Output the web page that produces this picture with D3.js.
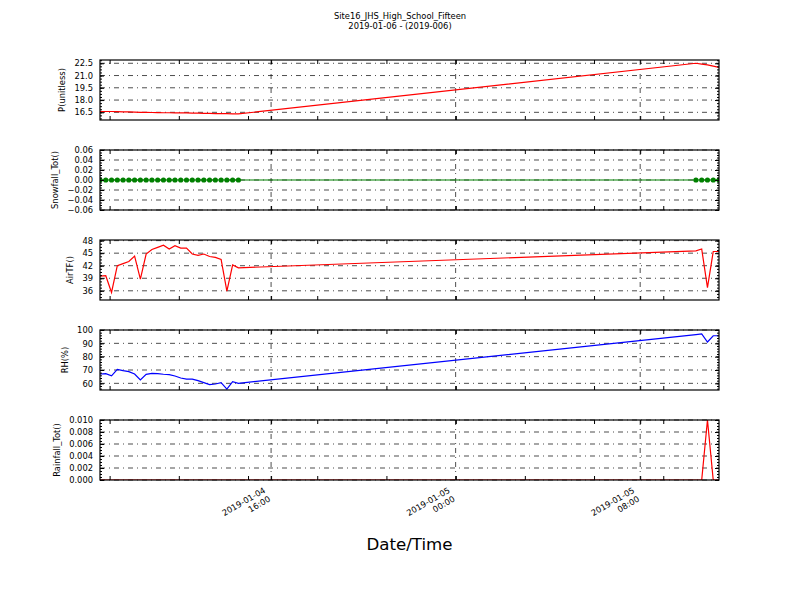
<!DOCTYPE html>
<html>
<head>
<meta charset="utf-8">
<script src="https://cdn.jsdelivr.net/npm/d3@7/dist/d3.min.js"></script>
<style>
  body { margin: 0; background: #fff; }
  text { font-family: "DejaVu Sans", sans-serif; fill: #000; }
</style>
</head>
<body>
<script>
// observation times (15 min records, gap overnight)
const times = [
  "2019-01-04 08:35", "2019-01-04 08:50", "2019-01-04 09:05", "2019-01-04 09:20", "2019-01-04 09:35",
  "2019-01-04 09:50", "2019-01-04 10:05", "2019-01-04 10:20", "2019-01-04 10:35", "2019-01-04 10:50",
  "2019-01-04 11:05", "2019-01-04 11:20", "2019-01-04 11:35", "2019-01-04 11:50", "2019-01-04 12:05",
  "2019-01-04 12:20", "2019-01-04 12:35", "2019-01-04 12:50", "2019-01-04 13:05", "2019-01-04 13:20",
  "2019-01-04 13:35", "2019-01-04 13:50", "2019-01-04 14:05", "2019-01-04 14:20", "2019-01-04 14:35",
  "2019-01-05 10:25", "2019-01-05 10:40", "2019-01-05 10:55", "2019-01-05 11:10", "2019-01-05 11:25"
];

const pValues = [
  16.6, 16.6, 16.6, 16.58, 16.55, 16.55, 16.52, 16.5, 16.5, 16.48,
  16.47, 16.45, 16.45, 16.43, 16.42, 16.42, 16.4, 16.4, 16.38, 16.37,
  16.35, 16.35, 16.33, 16.32, 16.3,
  22.5, 22.4, 22.3, 22.15, 22.0
];
const snowValues = [
  0, 0, 0, 0, 0, 0, 0, 0, 0, 0,
  0, 0, 0, 0, 0, 0, 0, 0, 0, 0,
  0, 0, 0, 0, 0,
  0, 0, 0, 0, 0
];
const airValues = [
  39.5, 39.6, 35.6, 42.0, 42.5, 43.0, 44.3, 38.8, 44.8, 45.9,
  46.4, 46.9, 46.0, 46.8, 46.2, 46.2, 44.8, 44.5, 44.8, 44.2,
  44.0, 43.5, 35.9, 42.2, 41.5,
  45.55, 46.0, 36.75, 45.4, 45.4
];
const rhValues = [
  67, 67.3, 65.6, 70.5, 69.5, 68.8, 67, 62.5, 66.7, 67.5,
  67.3, 66.8, 66.5, 65.5, 64, 63.2, 63.2, 62, 60.5, 59,
  59.5, 60.5, 55.7, 61.2, 60,
  96.5, 97, 91, 95.7, 95.7
];
const rainValues = [
  0, 0, 0, 0, 0, 0, 0, 0, 0, 0,
  0, 0, 0, 0, 0, 0, 0, 0, 0, 0,
  0, 0, 0, 0, 0,
  0, 0, 0.010, 0, 0
];

const pTicks = [16.5, 18.0, 19.5, 21.0, 22.5];
const snowTicks = [-0.06, -0.04, -0.02, 0.00, 0.02, 0.04, 0.06];
const airTicks = [36, 39, 42, 45, 48];
const rhTicks = [60, 70, 80, 90, 100];
const rainTicks = [0.000, 0.002, 0.004, 0.006, 0.008, 0.010];

const titleLines = ["Site16_JHS_High_School_Fifteen", "2019-01-06 - (2019-006)"];
const xLabel = "Date/Time";

const parseTime = d3.timeParse("%Y-%m-%d %H:%M");
const dates = times.map(parseTime);

const panels = [
  { label: "P(unitless)", values: pValues, ticks: pTicks, domain: [15.56, 22.9], minor: 0.375, fmt: ".1f", color: "#ff0000" },
  { label: "Snowfall_Tot()", values: snowValues, ticks: snowTicks, domain: [-0.06, 0.06], minor: 0.005, fmt: ".2f", color: "#008000", dots: true },
  { label: "AirTF()", values: airValues, ticks: airTicks, domain: [33.8, 48.15], minor: 0.75, fmt: "d", color: "#ff0000" },
  { label: "RH(%)", values: rhValues, ticks: rhTicks, domain: [55, 100], minor: 2, fmt: "d", color: "#0000ff" },
  { label: "Rainfall_Tot()", values: rainValues, ticks: rainTicks, domain: [0, 0.010], minor: 0.0005, fmt: ".3f", color: "#ff0000" }
];

const left = 100, right = 719, panelH = 60;
const panelTops = [60, 150, 240, 330, 420];
const fontSmall = 8.33;

const svg = d3.select("body").append("svg").attr("width", 800).attr("height", 600);

const xScale = d3.scaleTime().domain(d3.extent(dates)).range([left, right]);
const majorX = xScale.ticks(d3.timeHour.every(8));
const minorX = xScale.ticks(d3.timeHour.every(3));

// title
svg.append("g").selectAll("text")
  .data(titleLines)
  .enter().append("text")
  .attr("x", 400)
  .attr("y", (d, i) => 18.5 + i * 10)
  .attr("text-anchor", "middle")
  .style("font-size", fontSmall + "px")
  .text(d => d);

const dash = "5,4,1,4";

panels.forEach((p, i) => {
  const top = panelTops[i];
  const g = svg.append("g").attr("transform", "translate(0," + top + ")");
  const y = d3.scaleLinear().domain(p.domain).range([panelH, 0]);

  const clipId = "clip" + i;
  g.append("clipPath").attr("id", clipId)
    .append("rect").attr("x", left).attr("y", 0).attr("width", right - left).attr("height", panelH);

  // grid
  g.selectAll("line.hgrid")
    .data(p.ticks)
    .enter().append("line")
    .attr("class", "hgrid")
    .attr("x1", left).attr("x2", right)
    .attr("y1", d => y(d)).attr("y2", d => y(d))
    .style("stroke", "#000").style("stroke-width", 0.7)
    .style("stroke-dasharray", dash);

  g.selectAll("line.vgrid")
    .data(majorX)
    .enter().append("line")
    .attr("class", "vgrid")
    .attr("x1", d => xScale(d)).attr("x2", d => xScale(d))
    .attr("y1", 0).attr("y2", panelH)
    .style("stroke", "#000").style("stroke-width", 0.7)
    .style("stroke-dasharray", dash);

  // data line
  const line = d3.line()
    .x((d, k) => xScale(dates[k]))
    .y(d => y(d));

  const plot = g.append("g").attr("clip-path", "url(#" + clipId + ")");
  plot.append("path")
    .datum(p.values)
    .attr("d", line)
    .style("fill", "none")
    .style("stroke", p.color)
    .style("stroke-width", 1.2);

  if (p.dots) {
    plot.selectAll("circle")
      .data(p.values)
      .enter().append("circle")
      .attr("cx", (d, k) => xScale(dates[k]))
      .attr("cy", d => y(d))
      .attr("r", 2.6)
      .style("fill", p.color);
  }

  // y axes (ticks pointing inward)
  const minorY = d3.range(Math.ceil(p.domain[0] / p.minor - 1e-6) * p.minor, p.domain[1] + 1e-9, p.minor);

  const yLeft = g.append("g").attr("transform", "translate(" + left + ",0)")
    .call(d3.axisLeft(y).tickValues(p.ticks).tickSize(-4).tickPadding(7).tickFormat(d3.format(p.fmt)));
  g.append("g").attr("transform", "translate(" + left + ",0)")
    .call(d3.axisLeft(y).tickValues(minorY).tickSize(-2).tickFormat(""));
  g.append("g").attr("transform", "translate(" + right + ",0)")
    .call(d3.axisRight(y).tickValues(p.ticks).tickSize(-4).tickFormat(""));
  g.append("g").attr("transform", "translate(" + right + ",0)")
    .call(d3.axisRight(y).tickValues(minorY).tickSize(-2).tickFormat(""));

  // x ticks top and bottom
  g.append("g").attr("transform", "translate(0," + panelH + ")")
    .call(d3.axisBottom(xScale).tickValues(majorX).tickSize(-4).tickFormat(""));
  g.append("g")
    .call(d3.axisTop(xScale).tickValues(majorX).tickSize(-4).tickFormat(""));
  g.append("g").attr("transform", "translate(0," + panelH + ")")
    .call(d3.axisBottom(xScale).tickValues(minorX).tickSize(-4).tickFormat(""));
  g.append("g")
    .call(d3.axisTop(xScale).tickValues(minorX).tickSize(-4).tickFormat(""));

  g.selectAll(".domain").remove();
  g.selectAll(".tick line").style("stroke", "#000");
  g.selectAll(".tick text").style("font-size", fontSmall + "px").style("font-family", "DejaVu Sans");

  // frame
  g.append("rect")
    .attr("x", left).attr("y", 0)
    .attr("width", right - left).attr("height", panelH)
    .style("fill", "none").style("stroke", "#000").style("stroke-width", 1.2);

  // y label
  const bb = yLeft.node().getBBox();
  g.append("text")
    .attr("transform", "translate(" + (left + bb.x - 9.5) + "," + (panelH / 2) + ") rotate(-90)")
    .attr("text-anchor", "middle")
    .style("font-size", fontSmall + "px")
    .text(p.label);
});

// rotated two-line date labels under the last panel
const fmtDay = d3.timeFormat("%Y-%m-%d");
const fmtHour = d3.timeFormat("%H:%M");
const labelTop = panelTops[4] + panelH + 8;

const xl = svg.append("g").selectAll("g.xlab")
  .data(majorX)
  .enter().append("g")
  .attr("class", "xlab")
  .attr("transform", d => "translate(" + (xScale(d) - 5) + "," + (labelTop + 4) + ") rotate(-30)");

xl.append("text")
  .attr("text-anchor", "end")
  .style("font-size", fontSmall + "px")
  .text(d => fmtDay(d));
xl.append("text")
  .attr("text-anchor", "end")
  .attr("y", 10)
  .style("font-size", fontSmall + "px")
  .text(d => fmtHour(d));

svg.append("text")
  .attr("x", (left + right) / 2)
  .attr("y", 550)
  .attr("text-anchor", "middle")
  .style("font-size", "16.67px")
  .text(xLabel);
</script>
</body>
</html>
